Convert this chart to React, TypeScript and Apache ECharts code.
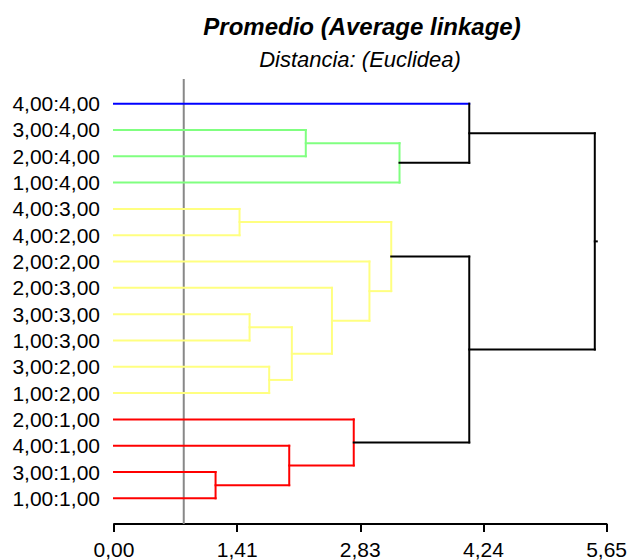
import React, { useEffect, useRef } from 'react';
import * as echarts from 'echarts';

// Leaves, top to bottom, and the cluster each one belongs to
const leafLabels = [
  '4,00:4,00', '3,00:4,00', '2,00:4,00', '1,00:4,00',
  '4,00:3,00', '4,00:2,00', '2,00:2,00', '2,00:3,00',
  '3,00:3,00', '1,00:3,00', '3,00:2,00', '1,00:2,00',
  '2,00:1,00', '4,00:1,00', '3,00:1,00', '1,00:1,00',
];
const leafCluster = [0, 1, 1, 1, 2, 2, 2, 2, 2, 2, 2, 2, 3, 3, 3, 3];
const clusterColors = ['#0000ff', '#80ff80', '#ffff80', '#ff0000'];
const joinColor = '#000000';

// Merge steps: node ids 0..15 are leaves, 16 + k is the node built by merge k
const mergeLeft = [1, 16, 0, 4, 8, 10, 20, 7, 6, 19, 14, 13, 12, 25, 18];
const mergeRight = [2, 3, 17, 5, 9, 11, 21, 22, 23, 24, 15, 26, 27, 28, 29];
const mergeHeight = [2.2, 3.275, 4.075, 1.44, 1.555, 1.78, 2.04, 2.5, 2.93, 3.18, 1.165, 2.01, 2.75, 4.075, 5.515];
const mergeCluster = [1, 1, -1, 2, 2, 2, 2, 2, 2, 2, 3, 3, 3, -1, -1];

const cutDistance = 0.8;
const xMax = 5.65;
const xTickLabels = ['0,00', '1,41', '2,83', '4,24', '5,65'];

const FONT = '"Liberation Sans", Arial, Helvetica, sans-serif';
const LEAF_COUNT = leafLabels.length;

// Node positions: x = merge distance, y = leaf slot (merges sit between children)
const nodeX: number[] = leafLabels.map(() => 0);
const nodeY: number[] = leafLabels.map((_, i) => i);
const parentOf: number[] = [];
mergeHeight.forEach((h, k) => {
  const id = LEAF_COUNT + k;
  nodeX[id] = h;
  nodeY[id] = (nodeY[mergeLeft[k]] + nodeY[mergeRight[k]]) / 2;
  parentOf[mergeLeft[k]] = id;
  parentOf[mergeRight[k]] = id;
});

const barColor = (k: number) => (mergeCluster[k] >= 0 ? clusterColors[mergeCluster[k]] : joinColor);
const stemColor = (node: number) =>
  node < LEAF_COUNT ? clusterColors[leafCluster[node]] : barColor(parentOf[node] - LEAF_COUNT);

const seg = (p: number[], q: number[], color: string) => ({
  type: 'line',
  shape: { x1: p[0], y1: p[1], x2: q[0], y2: q[1] },
  style: { stroke: color, lineWidth: 2, lineCap: 'square' },
});

export default function App() {
  const ref = useRef<HTMLDivElement>(null);

  useEffect(() => {
    if (!ref.current) return;
    const chart = echarts.init(ref.current, null, { renderer: 'svg' });
    const rootIndex = mergeHeight.length - 1;

    chart.setOption({
      animation: false,
      backgroundColor: '#ffffff',
      graphic: [
        {
          type: 'text',
          x: 362,
          y: 26,
          style: {
            text: 'Promedio (Average linkage)',
            font: `italic bold 24px ${FONT}`,
            fill: '#000',
            align: 'center',
            verticalAlign: 'middle',
          },
        },
        {
          type: 'text',
          x: 360,
          y: 59,
          style: {
            text: 'Distancia: (Euclidea)',
            font: `italic 22px ${FONT}`,
            fill: '#000',
            align: 'center',
            verticalAlign: 'middle',
          },
        },
      ],
      grid: { left: 114, right: 22, top: 90.5, bottom: 48.5, containLabel: false },
      xAxis: {
        type: 'value',
        min: 0,
        max: xMax,
        interval: xMax / 4,
        offset: 12.5,
        splitLine: { show: false },
        axisLine: { show: true, onZero: false, lineStyle: { color: '#000', width: 2 } },
        axisTick: { show: true, length: 8, lineStyle: { color: '#000', width: 2 } },
        axisLabel: {
          margin: 15,
          fontSize: 21,
          fontFamily: FONT,
          color: '#000',
          formatter: (_v: number, i: number) => xTickLabels[i] ?? '',
        },
      },
      yAxis: [
        {
          type: 'category',
          inverse: true,
          data: leafLabels,
          axisLine: { show: false },
          axisTick: { show: false },
          splitLine: { show: false },
          axisLabel: { interval: 0, margin: 14, fontSize: 21, fontFamily: FONT, color: '#000' },
        },
        {
          type: 'value',
          inverse: true,
          min: -0.5,
          max: LEAF_COUNT - 0.5,
          show: false,
          splitLine: { show: false },
        },
      ],
      series: [
        {
          type: 'custom',
          yAxisIndex: 1,
          z: 1,
          silent: true,
          data: [[cutDistance, 0]],
          renderItem: (params: any, api: any) => {
            const x = api.coord([api.value(0), 0])[0];
            const cs = params.coordSys;
            return {
              type: 'line',
              shape: { x1: x, y1: cs.y - 11.5, x2: x, y2: cs.y + cs.height + 12.5 },
              style: { stroke: '#888888', lineWidth: 2 },
            };
          },
        },
        {
          type: 'custom',
          yAxisIndex: 1,
          z: 2,
          silent: true,
          data: mergeHeight.map((h, k) => [h, nodeY[LEAF_COUNT + k]]),
          renderItem: (params: any, api: any) => {
            const k = params.dataIndex;
            const a = mergeLeft[k];
            const b = mergeRight[k];
            const h = mergeHeight[k];
            const pa = api.coord([nodeX[a], nodeY[a]]);
            const pb = api.coord([nodeX[b], nodeY[b]]);
            const ha = api.coord([h, nodeY[a]]);
            const hb = api.coord([h, nodeY[b]]);
            const children: any[] = [
              seg(pa, ha, stemColor(a)),
              seg(pb, hb, stemColor(b)),
              seg(ha, hb, barColor(k)),
            ];
            if (k === rootIndex) {
              const mid = api.coord([h, nodeY[LEAF_COUNT + k]]);
              children.push(seg(mid, [mid[0] + 2, mid[1]], joinColor));
            }
            return { type: 'group', children };
          },
        },
      ],
    });

    return () => chart.dispose();
  }, []);

  return (
    <div
      ref={ref}
      style={{ position: 'fixed', left: 0, top: 0, width: 630, height: 560, background: '#fff' }}
    />
  );
}
